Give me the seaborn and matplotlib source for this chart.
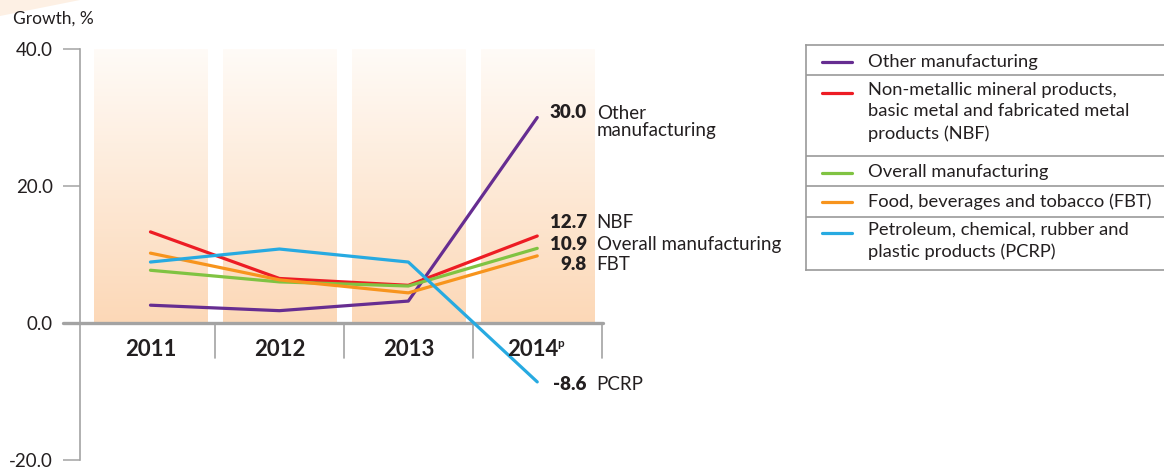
import numpy as np
import pandas as pd
import seaborn as sns
import matplotlib.pyplot as plt
from matplotlib.patches import Polygon
from matplotlib.colors import to_rgba

years = ['2011', '2012', '2013', '2014']
series_names = ['Other manufacturing', 'NBF', 'Overall manufacturing', 'FBT', 'PCRP']
other_mfg = [2.6, 1.8, 3.2, 30.0]
nbf = [13.3, 6.5, 5.5, 12.7]
overall_mfg = [7.7, 6.0, 5.4, 10.9]
fbt = [10.2, 6.3, 4.4, 9.8]
pcrp = [8.9, 10.8, 8.9, -8.6]

legend_labels = [
    'Other manufacturing',
    'Non-metallic mineral products,\nbasic metal and fabricated metal\nproducts (NBF)',
    'Overall manufacturing',
    'Food, beverages and tobacco (FBT)',
    'Petroleum, chemical, rubber and\nplastic products (PCRP)',
]
end_labels = ['Other\nmanufacturing', 'NBF', 'Overall manufacturing', 'FBT', 'PCRP']

colors = {
    'Other manufacturing': '#662d91',
    'NBF': '#ed1c24',
    'Overall manufacturing': '#80c342',
    'FBT': '#f7941d',
    'PCRP': '#27aae1',
}


def build_frame():
    rows = []
    for name, vals in zip(series_names, [other_mfg, nbf, overall_mfg, fbt, pcrp]):
        for i, v in enumerate(vals):
            rows.append({'series': name, 'pos': i, 'growth': v})
    return pd.DataFrame(rows)


def draw_chart(df):
    W, H = 1164, 475
    sns.set_style('white')
    plt.rcParams['font.family'] = ['Lato', 'DejaVu Sans']
    text_col = '#231f20'
    grey = '#a3a3a3'

    fig = plt.figure(figsize=(W / 100, H / 100), dpi=100)
    # faint decorative wedge in the top-left corner
    fig.patches.append(Polygon([(0, 1), (80 / W, 1), (0, 1 - 16 / H)], closed=True,
                               transform=fig.transFigure, facecolor='#fdf0e4',
                               edgecolor='none'))

    ax = fig.add_axes([80 / W, 15 / H, 523 / W, 411 / H])
    ax.set_facecolor('none')

    # shaded year columns with a vertical gradient
    top = np.array(to_rgba('#fffbf7'))
    bottom = np.array(to_rgba('#fcd8b7'))
    t = np.linspace(0, 1, 256)[:, None]
    grad = (top * (1 - t) + bottom * t)[:, None, :]
    for i in range(len(years)):
        ax.imshow(grad, extent=[i - 0.44, i + 0.44, 0, 40], aspect='auto',
                  origin='upper', zorder=0, interpolation='bilinear')

    sns.lineplot(data=df, x='pos', y='growth', hue='series', hue_order=series_names,
                 palette=colors, linewidth=2.3, legend=False, ax=ax, zorder=3)

    ax.set_xlim(-0.5465, 3.51)
    ax.set_ylim(-20, 40)
    ax.set_xlabel('')
    ax.set_ylabel('')

    # zero line and category separators
    ax.axhline(0, xmin=-17 / 523, xmax=1, color=grey, lw=2.4, clip_on=False, zorder=2)
    for i in range(len(years)):
        ax.plot([i + 0.5, i + 0.5], [0, -5.1], color=grey, lw=1.2, zorder=2,
                clip_on=False)

    for s in ['top', 'right', 'bottom']:
        ax.spines[s].set_visible(False)
    ax.spines['left'].set_color(grey)
    ax.spines['left'].set_linewidth(1.2)
    ax.set_yticks([-20, 0, 20, 40])
    ax.set_yticklabels(['-20.0', '0.0', '20.0', '40.0'])
    ax.tick_params(axis='y', length=12.5, width=1.1, color=grey, pad=7,
                   labelsize=13.5, labelcolor=text_col, left=True)
    ax.set_xticks([])

    # year labels
    for i, yr in enumerate(years):
        if yr == '2014':
            ax.annotate(yr, xy=(i, -3.8), xytext=(-3, 0), textcoords='offset points',
                        ha='center', va='center', fontsize=16, fontweight='bold',
                        color=text_col, annotation_clip=False)
            ax.annotate('p', xy=(i, -3.8), xytext=(14.5, 4), textcoords='offset points',
                        ha='left', va='center', fontsize=8.5, fontweight='bold',
                        color=text_col, annotation_clip=False)
        else:
            ax.text(i, -3.8, yr, ha='center', va='center', fontsize=16,
                    fontweight='bold', color=text_col)

    # end-of-line value labels
    label_y = [30.7, 14.6, 11.5, 8.5, -9.05]
    for vals, name, ly in zip([other_mfg, nbf, overall_mfg, fbt, pcrp], end_labels, label_y):
        ax.text(3.384, ly, f'{vals[-1]:.1f}', ha='right', va='center', fontsize=13.5,
                fontweight='heavy', color=text_col, clip_on=False)
        if '\n' in name:
            ax.text(3.461, ly + 1.1, name, ha='left', va='top', fontsize=13.5,
                    color=text_col, clip_on=False, linespacing=1.0)
        else:
            ax.text(3.461, ly, name, ha='left', va='center', fontsize=13.5,
                    color=text_col, clip_on=False)

    fig.text(13 / W, 1 - 19 / H, 'Growth, %', ha='left', va='center', fontsize=12.5,
             color=text_col)

    # boxed legend
    lax = fig.add_axes([806 / W, 1 - 270 / H, 370 / W, 225 / H])
    lax.set_xlim(806, 1176)
    lax.set_ylim(270, 45)
    lax.set_xticks([])
    lax.set_yticks([])
    for s in lax.spines.values():
        s.set_color('#9a9a9a')
        s.set_linewidth(1.2)
    for sep in [75, 156, 186, 217]:
        lax.axhline(sep, color='#9a9a9a', lw=1.2)
    row_y = [61.5, 93, 172.5, 202, 233]
    for name, lab, y in zip(series_names, legend_labels, row_y):
        lax.plot([822, 852], [y, y], color=colors[name], lw=2.3)
        multi = '\n' in lab
        lax.annotate(lab, xy=(868, y), xytext=(0, 8 if multi else 0),
                     textcoords='offset points', ha='left',
                     va='top' if multi else 'center',
                     fontsize=13.2, color=text_col, linespacing=1.42)

    fig.savefig('out.png', dpi=100)


def main():
    df = build_frame()
    draw_chart(df)


if __name__ == '__main__':
    main()
